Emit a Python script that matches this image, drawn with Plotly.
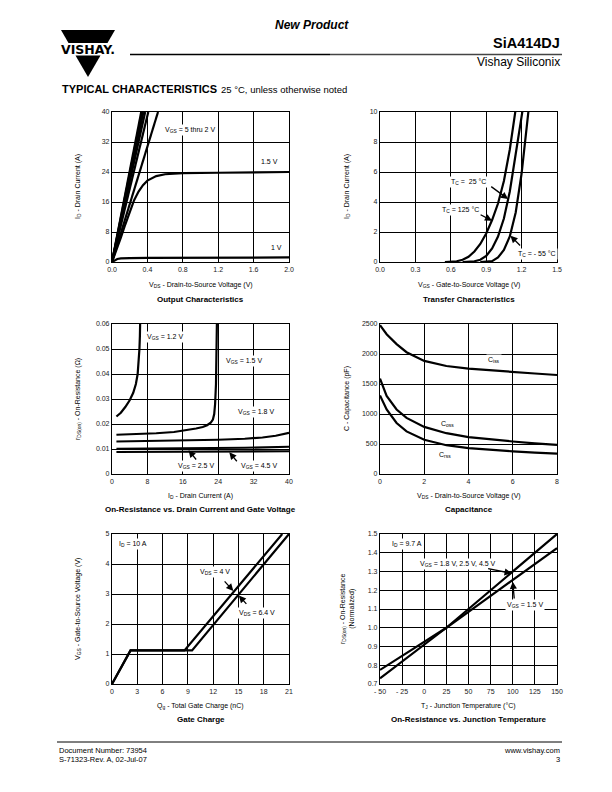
import plotly.graph_objects as go

FONT = "Liberation Sans, Arial, sans-serif"
W, H = 612, 792
OFF = 8  # page body margin compensation

# ---------------- data ----------------
# 1. Output characteristics
out_steep_names = ["5 V", "4 V", "3 V", "2.5 V", "2 V", "1.8 V"]
out_steep_vds_end = [0.33, 0.34, 0.355, 0.375, 0.41, 0.52]
out_steep_id_end = [40, 40, 40, 40, 40, 40]
out_15_vds = [0, 0.05, 0.1, 0.15, 0.2, 0.25, 0.3, 0.35, 0.4, 0.5, 0.6, 0.7, 0.8, 1.2, 1.6, 2.0]
out_15_id = [0, 3, 6.5, 10, 13.5, 16.5, 18.8, 20.5, 21.7, 22.9, 23.4, 23.6, 23.7, 23.8, 23.9, 24.0]
out_10_vds = [0, 0.03, 0.06, 0.1, 0.15, 0.2, 0.4, 0.8, 1.2, 1.6, 2.0]
out_10_id = [0, 0.45, 0.8, 0.95, 1.02, 1.05, 1.1, 1.15, 1.18, 1.2, 1.22]

# 2. Transfer characteristics
tr_125_vgs = [0.55, 0.6, 0.65, 0.7, 0.75, 0.8, 0.85, 0.9, 0.95, 1.0, 1.05, 1.1, 1.14, 1.15]
tr_125_id = [0, 0.01, 0.05, 0.15, 0.35, 0.7, 1.2, 1.9, 2.8, 3.9, 5.4, 7.5, 9.6, 10.2]
tr_25_vgs = [0.7, 0.75, 0.8, 0.85, 0.9, 0.95, 1.0, 1.05, 1.1, 1.15, 1.2, 1.21]
tr_25_id = [0, 0.01, 0.05, 0.15, 0.4, 0.9, 1.7, 2.9, 4.7, 7.2, 9.6, 10.2]
tr_m55_vgs = [0.85, 0.9, 0.95, 1.0, 1.05, 1.1, 1.15, 1.2, 1.25, 1.26]
tr_m55_id = [0, 0.01, 0.06, 0.3, 0.8, 1.7, 3.3, 5.9, 9.2, 10.2]

# 3. On-resistance vs drain current
rd_12_id = [1, 2, 3, 4, 4.8, 5.4, 5.8, 6.05, 6.2, 6.3, 6.35, 6.38]
rd_12_r = [0.023, 0.0245, 0.0268, 0.0295, 0.0325, 0.036, 0.040, 0.045, 0.050, 0.055, 0.060, 0.062]
rd_15_id = [1, 6, 10, 14, 17, 19, 20.5, 21.5, 22.3, 22.8, 23.1, 23.3, 23.5, 23.6, 23.7, 23.72]
rd_15_r = [0.0157, 0.016, 0.0163, 0.0168, 0.0175, 0.0182, 0.0188, 0.0195, 0.0205, 0.0218,
           0.024, 0.028, 0.036, 0.046, 0.060, 0.062]
rd_18_id = [1, 8, 16, 24, 30, 34, 37, 40]
rd_18_r = [0.0130, 0.0132, 0.0134, 0.0137, 0.0141, 0.0146, 0.0153, 0.0165]
rd_25_id = [1, 10, 20, 30, 40]
rd_25_r = [0.0101, 0.0102, 0.0103, 0.0105, 0.0109]
rd_45_id = [1, 10, 20, 30, 40]
rd_45_r = [0.0088, 0.0089, 0.0089, 0.009, 0.0091]

# 4. Capacitance
cap_vds = [0, 0.3, 0.75, 1.2, 2, 3, 4, 5, 6, 7, 8]
cap_ciss = [2480, 2330, 2165, 2030, 1885, 1800, 1755, 1725, 1700, 1675, 1650]
cap_coss = [1590, 1300, 1075, 935, 785, 680, 615, 575, 542, 512, 487]
cap_crss = [1310, 1075, 850, 710, 570, 480, 430, 400, 378, 357, 338]

# 5. Gate charge
gc_4_qg = [0, 2.2, 8.6, 20.2]
gc_4_vgs = [0, 1.12, 1.12, 5.0]
gc_64_qg = [0, 2.2, 9.5, 21]
gc_64_vgs = [0, 1.12, 1.12, 5.0]

# 6. On-resistance vs junction temperature
tj = [-50, -25, 0, 25, 50, 75, 100, 125, 150]
rn_hi = [0.73, 0.82, 0.91, 1.0, 1.10, 1.20, 1.30, 1.40, 1.50]
rn_15 = [0.775, 0.85, 0.925, 1.0, 1.085, 1.17, 1.255, 1.34, 1.425]

# tick labels
t6_vals = [-50, -25, 0, 25, 50, 75, 100, 125, 150]
t6_text = ["- 50", "- 25", "0", "25", "50", "75", "100", "125", "150"]

# ---------------- layout helpers ----------------
def X(px):
    return (px - OFF) / W

def Y(py):
    return 1 - (py - OFF) / H

cols = [(112, 289), (380, 557)]
rows = [(112, 262), (324, 474), (534, 684)]

fig = go.Figure()
LW = 2.2

def line(x, y, ax):
    fig.add_trace(go.Scatter(x=x, y=y, mode="lines", line=dict(color="black", width=LW),
                             xaxis="x" + ax, yaxis="y" + ax, showlegend=False, hoverinfo="skip"))

# plot 1
for xe, ye in zip(out_steep_vds_end, out_steep_id_end):
    line([0, xe], [0, ye], "")
line(out_15_vds, out_15_id, "")
line(out_10_vds, out_10_id, "")
# plot 2
line(tr_125_vgs, tr_125_id, "2")
line(tr_25_vgs, tr_25_id, "2")
line(tr_m55_vgs, tr_m55_id, "2")
# plot 3
line(rd_12_id, rd_12_r, "3")
line(rd_15_id, rd_15_r, "3")
line(rd_18_id, rd_18_r, "3")
line(rd_25_id, rd_25_r, "3")
line(rd_45_id, rd_45_r, "3")
# plot 4
line(cap_vds, cap_ciss, "4")
line(cap_vds, cap_coss, "4")
line(cap_vds, cap_crss, "4")
# plot 5
line(gc_4_qg, gc_4_vgs, "5")
line(gc_64_qg, gc_64_vgs, "5")
# plot 6
line(tj, rn_hi, "6")
line(tj, rn_15, "6")

tickfont = dict(family=FONT, size=7, color="#222")

def axis(dom, rng, dtick, anchor, fmt=None, tickvals=None, ticktext=None, tick0=None):
    a = dict(domain=dom, range=rng, showgrid=True, gridcolor="black", gridwidth=1,
             showline=True, mirror=True, linecolor="black", linewidth=1.2,
             zeroline=False, ticks="", tickfont=tickfont, anchor=anchor, fixedrange=True,
             automargin=False)
    if tickvals is not None:
        a.update(tickmode="array", tickvals=tickvals, ticktext=ticktext)
    else:
        a.update(dtick=dtick, tick0=tick0 if tick0 is not None else rng[0])
    if fmt:
        a["tickformat"] = fmt
    return a

def xdom(c):
    return [X(cols[c][0]), X(cols[c][1])]

def ydom(r):
    return [Y(rows[r][1]), Y(rows[r][0])]

layout = dict(
    template="none",
    width=W, height=H, autosize=False, margin=dict(l=0, r=0, t=0, b=0, pad=0),
    paper_bgcolor="white", plot_bgcolor="white", showlegend=False,
    font=dict(family=FONT, size=7, color="black"),
    xaxis=axis(xdom(0), [0, 2], 0.4, "y", ".1f"),
    yaxis=axis(ydom(0), [0, 40], 8, "x"),
    xaxis2=axis(xdom(1), [0, 1.5], 0.3, "y2", ".1f"),
    yaxis2=axis(ydom(0), [0, 10], 2, "x2"),
    xaxis3=axis(xdom(0), [0, 40], 8, "y3"),
    yaxis3=axis(ydom(1), [0, 0.06], 0.01, "x3"),
    xaxis4=axis(xdom(1), [0, 8], 2, "y4"),
    yaxis4=axis(ydom(1), [0, 2500], 500, "x4"),
    xaxis5=axis(xdom(0), [0, 21], 3, "y5"),
    yaxis5=axis(ydom(2), [0, 5], 1, "x5"),
    xaxis6=axis(xdom(1), [-50, 150], 25, "y6", tickvals=t6_vals, ticktext=t6_text),
    yaxis6=axis(ydom(2), [0.7, 1.5], 0.1, "x6", ".1f"),
)
fig.update_layout(**layout)

ann = []

def txt(text, x, y, ax="", size=7, bg="white", xanchor="center", **kw):
    d = dict(text=text, x=x, y=y, xref="x" + ax, yref="y" + ax, showarrow=False,
             font=dict(family=FONT, size=size, color="black"), xanchor=xanchor,
             yanchor="middle", bgcolor=bg, borderpad=1)
    d.update(kw)
    ann.append(d)

def arrow(x, y, tx, ty, ax=""):
    ann.append(dict(text="", x=x, y=y, ax=tx, ay=ty, xref="x" + ax, yref="y" + ax,
                    axref="x" + ax, ayref="y" + ax, showarrow=True, arrowhead=2,
                    arrowsize=1.1, arrowwidth=1.3, arrowcolor="black"))

def ptxt(text, px, py, size=7, xanchor="center", bold=False, color="black", fam=FONT, yanchor="middle"):
    if bold:
        text = "<b>" + text + "</b>"
    ann.append(dict(text=text, x=X(px), y=Y(py), xref="paper", yref="paper", showarrow=False,
                    font=dict(family=fam, size=size, color=color), xanchor=xanchor, yanchor=yanchor))

# plot 1 labels
txt("V<sub>GS</sub> = 5 thru 2 V", 0.885, 35.2)
txt("1.5 V", 1.785, 26.7)
txt("1 V", 1.86, 3.8)
# plot 2 labels
txt("T<sub>C</sub> =  25 °C", 0.75, 5.3, "2")
arrow(1.085, 4.2, 0.93, 5.1, "2")
txt("T<sub>C</sub> = 125 °C", 0.685, 3.45, "2")
arrow(0.95, 2.75, 0.84, 3.2, "2")
txt("T<sub>C</sub> = - 55 °C", 1.33, 0.55, "2")
arrow(1.105, 1.75, 1.2, 1.0, "2")
# plot 3 labels
txt("V<sub>GS</sub> = 1.2 V", 11.9, 0.0547, "3")
txt("V<sub>GS</sub> = 1.5 V", 29.9, 0.0453, "3")
txt("V<sub>GS</sub> = 1.8 V", 32.5, 0.0249, "3")
txt("V<sub>GS</sub> = 2.5 V", 19.0, 0.0034, "3")
arrow(17.3, 0.0095, 19.3, 0.0052, "3")
txt("V<sub>GS</sub> = 4.5 V", 33.3, 0.0034, "3")
arrow(26.5, 0.0087, 28.5, 0.0045, "3")
# plot 4 labels
txt("C<sub>iss</sub>", 5.14, 1900, "4")
txt("C<sub>oss</sub>", 3.04, 840, "4")
txt("C<sub>rss</sub>", 2.93, 320, "4")
# plot 5 labels
txt("I<sub>D</sub> = 10 A", 2.45, 4.67, "5")
txt("V<sub>DS</sub> = 4 V", 12.2, 3.72, "5")
arrow(14.4, 3.1, 13.2, 3.47, "5")
txt("V<sub>DS</sub> = 6.4 V", 17.2, 2.36, "5")
arrow(15.05, 2.95, 16.1, 2.62, "5")
# plot 6 labels
txt("I<sub>D</sub> = 9.7 A", -19.8, 1.447, "6")
txt("V<sub>GS</sub> = 1.8 V, 2.5 V, 4.5 V", 38.5, 1.338, "6")
arrow(98.8, 1.29, 70.5, 1.317, "6")
txt("V<sub>GS</sub> = 1.5 V", 113.8, 1.121, "6")
arrow(100, 1.245, 101.8, 1.148, "6")

# axis titles
xt_rows = [285, 496, 706]
ttl_rows = [299, 509, 719]
cx = [(cols[0][0] + cols[0][1]) / 2, (cols[1][0] + cols[1][1]) / 2]
xtitles = [["V<sub>DS</sub> - Drain-to-Source Voltage (V)", "V<sub>GS</sub> - Gate-to-Source Voltage (V)"],
           ["I<sub>D</sub> - Drain Current (A)", "V<sub>DS</sub> - Drain-to-Source Voltage (V)"],
           ["Q<sub>g</sub> - Total Gate Charge (nC)", "T<sub>J</sub> - Junction Temperature (°C)"]]
titles = [["Output Characteristics", "Transfer Characteristics"],
          ["On-Resistance vs. Drain Current and Gate Voltage", "Capacitance"],
          ["Gate Charge", "On-Resistance vs. Junction Temperature"]]
ytitles = [["I<sub>D</sub> - Drain Current (A)", "I<sub>D</sub> - Drain Current (A)"],
           ["r<sub>DS(on)</sub> - On-Resistance (Ω)", "C - Capacitance (pF)"],
           ["V<sub>GS</sub> - Gate-to-Source Voltage (V)",
            "r<sub>DS(on)</sub> - On-Resistance<br>(Normalized)"]]
ytx = [78, 347]
for r in range(3):
    for c in range(2):
        ptxt(xtitles[r][c], cx[c], xt_rows[r], size=7)
        ptxt(titles[r][c], cx[c], ttl_rows[r], size=8, bold=True)
        ymid = (rows[r][0] + rows[r][1]) / 2
        ann.append(dict(text=ytitles[r][c], x=X(ytx[c]), y=Y(ymid), xref="paper", yref="paper",
                        showarrow=False, textangle=-90,
                        font=dict(family=FONT, size=7, color="black"),
                        xanchor="center", yanchor="middle"))

# header
ptxt("<i>New Product</i>", 312, 25, size=12, bold=True)
ptxt("SiA414DJ", 562, 43, size=14.5, bold=True, xanchor="right")
ptxt("Vishay Siliconix", 562, 62, size=12, xanchor="right")
ptxt("TYPICAL CHARACTERISTICS", 60, 89, size=11, bold=True, xanchor="left")
ptxt("25 °C, unless otherwise noted", 219, 89.5, size=9.5, xanchor="left")
ptxt("VISHAY.", 88, 49.5, size=12.5, bold=True, fam="DejaVu Sans, sans-serif")
# footer
ptxt("Document Number: 73954", 57, 750, size=7.5, xanchor="left")
ptxt("S-71323-Rev. A, 02-Jul-07", 57, 759, size=7.5, xanchor="left")
ptxt("www.vishay.com", 562, 750, size=7.5, xanchor="right")
ptxt("3", 562, 759, size=7.5, xanchor="right")

fig.update_layout(annotations=ann)

def ppath(pts):
    s = "M " + " L ".join(f"{X(a):.5f},{Y(b):.5f}" for a, b in pts) + " Z"
    return s

shapes = [
    dict(type="path", xref="paper", yref="paper",
         path=ppath([(61, 30), (115, 30), (107.5, 43), (68.5, 43)]),
         fillcolor="black", line=dict(width=0)),
    dict(type="path", xref="paper", yref="paper",
         path=ppath([(75.5, 55.5), (100.5, 55.5), (88, 77)]),
         fillcolor="black", line=dict(width=0)),
    dict(type="line", xref="paper", yref="paper", x0=X(130), x1=X(330), y0=Y(54.5), y1=Y(54.5),
         line=dict(color="black", width=1.6)),
    dict(type="line", xref="paper", yref="paper", x0=X(330), x1=X(562), y0=Y(54.5), y1=Y(54.5),
         line=dict(color="#444", width=1.4)),
    dict(type="line", xref="paper", yref="paper", x0=X(57), x1=X(562), y0=Y(742), y1=Y(742),
         line=dict(color="black", width=1)),
]
fig.update_layout(shapes=shapes)

fig.write_html("out.html")
